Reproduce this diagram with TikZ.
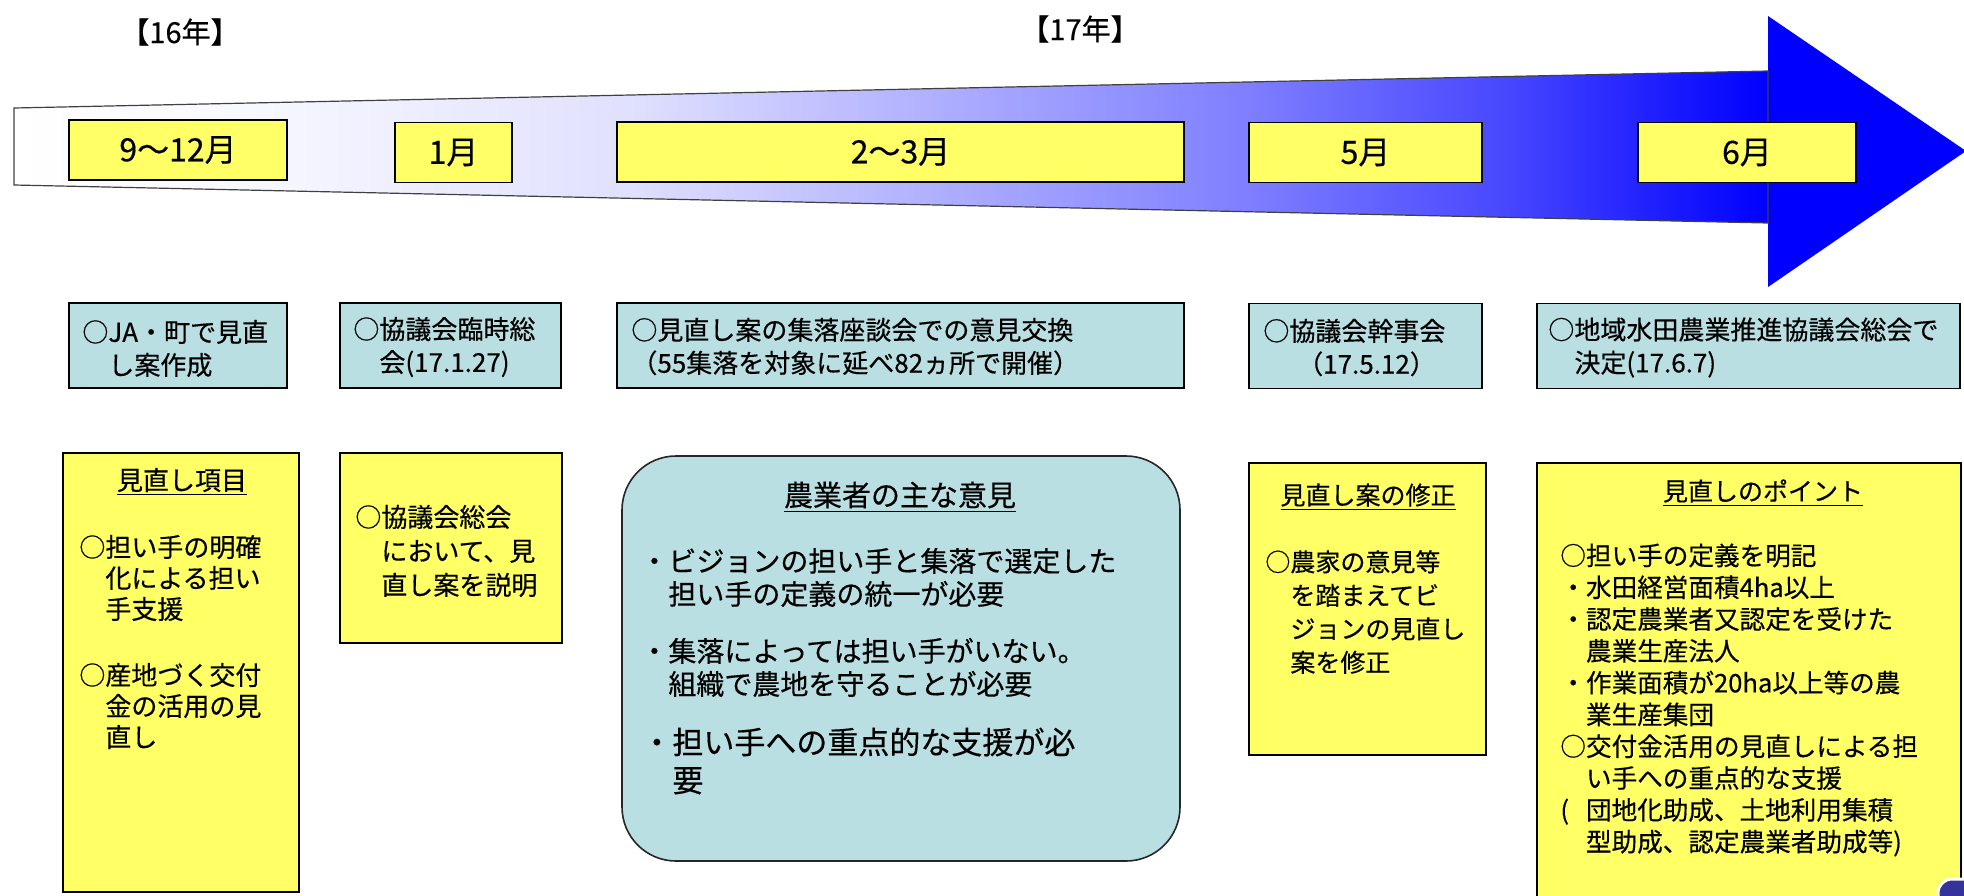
\documentclass[tikz,border=0pt]{standalone}
\usepackage{fontspec}
\newfontfamily\jp{Noto Sans CJK JP}[FakeBold=0.4]
\usetikzlibrary{positioning}
\definecolor{boxyellow}{HTML}{FFFF66}
\definecolor{boxcyan}{HTML}{B9DFE3}
\definecolor{flowblue}{HTML}{0000FF}
\definecolor{badge}{HTML}{33339A}
\pgfdeclarehorizontalshading{timeflow}{100bp}{color(0bp)=(white); color(25bp)=(white); color(32bp)=(blue!3!white); color(42.5bp)=(blue!12!white); color(52bp)=(blue!33!white); color(60bp)=(blue!50!white); color(67.5bp)=(blue!72!white); color(75bp)=(flowblue); color(100bp)=(flowblue)}

\begin{document}
\begin{tikzpicture}[x=0.5pt,y=-0.5pt,
  monthbox/.style={draw,fill=boxyellow,line width=0.8pt,inner sep=0pt,minimum height=30pt,font=\jp\fontsize{16}{18}\selectfont},
  stepbox/.style={draw,fill=boxcyan,line width=0.8pt,inner sep=0pt,minimum height=42.5pt},
  notebox/.style={draw,fill=boxyellow,line width=0.8pt,inner sep=0pt},
  opinbox/.style={draw=black!85,fill=boxcyan,line width=0.8pt,inner sep=0pt,rounded corners=27pt},
  boxtext/.style={anchor=west,align=left,inner sep=0pt,font=\jp\fontsize{13}{16.5}\selectfont},
  boxtitle/.style={inner sep=0pt,font=\jp\fontsize{13}{16}\selectfont},
  yearlabel/.style={inner sep=0pt,font=\jp\fontsize{14.5}{16}\selectfont}]

\useasboundingbox (0,0) rectangle (1964,895);

% timeline arrow
\fill[flowblue] (1768,16) -- (1966,151) -- (1768,287) -- cycle;
\shade[shading=timeflow,draw=black!75,line width=0.6pt] (14,108) -- (1768,71) -- (1768,223) -- (14,185) -- cycle;

\node[yearlabel] (yr16) at (180,32) {【16年】};
\node[yearlabel] (yr17) at (1080,29) {【17年】};

% months
\node[monthbox,minimum width=109pt] (mSep) at (178,150) {9～12月};
\node[monthbox,minimum width=58.5pt] (mJan) at (453.5,152.5) {1月};
\node[monthbox,minimum width=283.5pt] (mFeb) at (900.5,152) {2～3月};
\node[monthbox,minimum width=116.5pt] (mMay) at (1365.5,152.5) {5月};
\node[monthbox,minimum width=109pt] (mJun) at (1747,152.5) {6月};

% steps
\node[stepbox,minimum width=109pt] (sJa) at (178,345.5) {};
\node[stepbox,minimum width=110.5pt] (sTemp) at (450.5,345.5) {};
\node[stepbox,minimum width=283.5pt] (sTalk) at (900.5,345.5) {};
\node[stepbox,minimum width=116.5pt] (sExec) at (1365.5,346) {};
\node[stepbox,minimum width=211.5pt] (sFinal) at (1748.5,346) {};
\node[boxtext] (tJa) at (82,348.5) {○JA・町で見直\\\rule{1em}{0pt}し案作成};
\node[boxtext] (tTemp) at (353,347) {○協議会臨時総\\\rule{1em}{0pt}会(17.1.27)};
\node[boxtext] (tTalk) at (631,346.5) {○見直し案の集落座談会での意見交換\\（55集落を対象に延べ82ヵ所で開催）};
\node[boxtext] (tExec) at (1263,347.5) {○協議会幹事会\\\rule{1.3em}{0pt}（17.5.12）};
\node[boxtext] (tFinal) at (1548,347.5) {○地域水田農業推進協議会総会で\\\rule{1em}{0pt}決定(17.6.7)};

% notes
\node[notebox,minimum width=118pt,minimum height=219.5pt] (nItems) at (181,672.5) {};
\node[boxtitle] (hItems) at (182,482) {\underline{見直し項目}};
\node[boxtext,font=\jp\fontsize{13}{15.5}\selectfont] (tItems) at (79,642) {○担い手の明確\\　化による担い\\　手支援\\[17.5pt]○産地づく交付\\　金の活用の見\\　直し};

\node[notebox,minimum width=111pt,minimum height=95pt] (nGen) at (451,548) {};
\node[boxtext,font=\jp\fontsize{13}{17}\selectfont] (tGen) at (355,551) {○協議会総会\\　において、見\\　直し案を説明};

\node[opinbox,minimum width=279pt,minimum height=202.5pt] (nOpin) at (901,658.5) {};
\node[boxtitle,font=\jp\fontsize{14.5}{17}\selectfont] (hOpin) at (900,497) {\underline{農業者の主な意見}};
\node[boxtext,font=\jp\fontsize{14}{16.5}\selectfont] (tOpinA) at (640,622.5) {・ビジョンの担い手と集落で選定した\\　担い手の定義の統一が必要\\[12pt]・集落によっては担い手がいない。\\　組織で農地を守ることが必要};
\node[boxtext,font=\jp\fontsize{15.5}{19}\selectfont] (tOpinB) at (641,761) {・担い手への重点的な支援が必\\　要};

\node[notebox,minimum width=118.5pt,minimum height=146pt] (nFix) at (1367.5,609) {};
\node[boxtitle,font=\jp\fontsize{12.5}{15}\selectfont] (hFix) at (1368,497) {\underline{見直し案の修正}};
\node[boxtext,font=\jp\fontsize{12.5}{16.75}\selectfont] (tFix) at (1265,612) {○農家の意見等\\　を踏まえてビ\\　ジョンの見直し\\　案を修正};

\node[notebox,minimum width=212pt,minimum height=223.5pt] (nPoint) at (1749,686.5) {};
\node[boxtitle,font=\jp\fontsize{12.5}{15}\selectfont] (hPoint) at (1763,493) {\underline{見直しのポイント}};
\node[boxtext,font=\jp\fontsize{12.8}{15.9}\selectfont] (tPoint) at (1560,700) {○担い手の定義を明記\\・水田経営面積4ha以上\\・認定農業者又認定を受けた\\　農業生産法人\\・作業面積が20ha以上等の農\\　業生産集団\\○交付金活用の見直しによる担\\　い手への重点的な支援\\\makebox[1em][l]{(}団地化助成、土地利用集積\\　型助成、認定農業者助成等)};

\begin{scope}
\clip (0,0) rectangle (1964,895);
\draw[fill=badge,draw=white,line width=1.5pt,rounded corners=7pt] (1938,879) rectangle (2010,950);
\end{scope}
\end{tikzpicture}
\end{document}
